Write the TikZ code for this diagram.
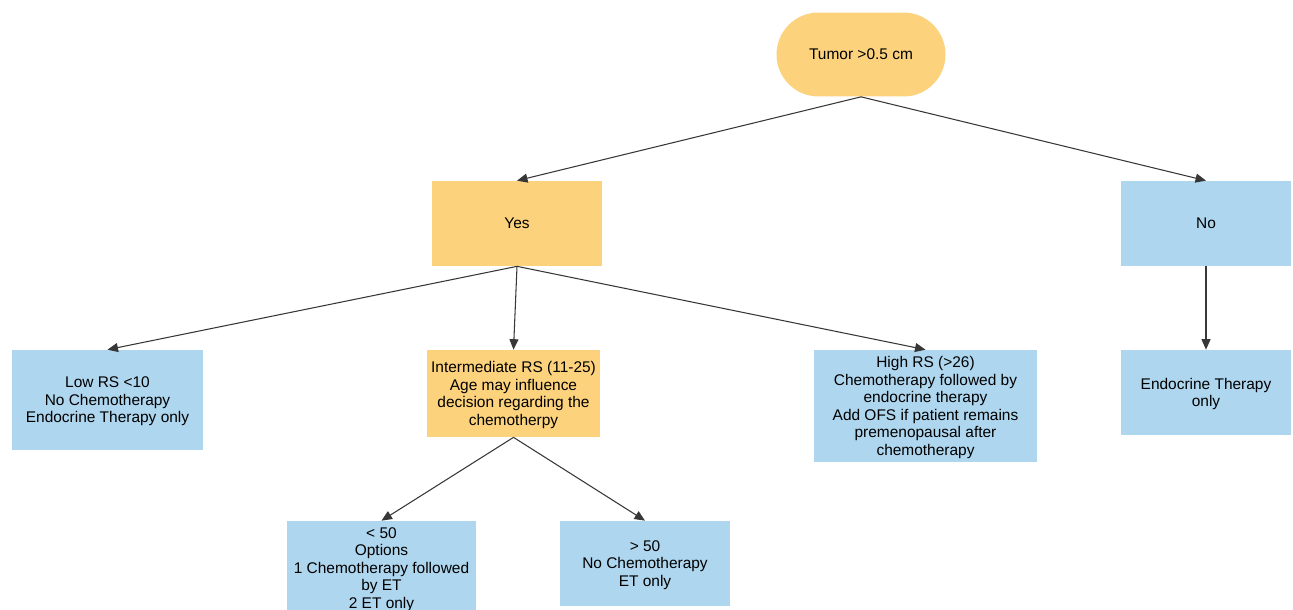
\documentclass[tikz,border=0pt]{standalone}
\usepackage{fontspec}
\setmainfont{Liberation Sans}
\usetikzlibrary{arrows.meta,shapes.misc}
\definecolor{bluec}{RGB}{174,214,238}
\definecolor{yelc}{RGB}{252,210,125}
\definecolor{linec}{RGB}{55,55,55}
\tikzset{
  box/.style={draw=none, inner sep=0pt, align=center, font=\fontsize{8.8}{10}\selectfont},
  multi/.style={text depth=-1.6pt},
  bluebox/.style={box, fill=bluec},
  yelbox/.style={box, fill=yelc},
  conn/.style={draw=linec, line width=0.6pt, -{Triangle[length=0.21cm,width=0.18cm]}}
}
\begin{document}
\begin{tikzpicture}[x=0.02cm,y=-0.02cm]
\useasboundingbox[fill=white] (0,0) rectangle (1293,609);
\node[yelbox, shape=rounded rectangle, minimum width=3.38cm, minimum height=1.68cm] (tumor) at (861,54.5) {Tumor >0.5 cm};
\node[yelbox, minimum width=3.4cm, minimum height=1.7cm] (yes) at (517,223.5) {Yes};
\node[bluebox, minimum width=3.4cm, minimum height=1.7cm] (no) at (1206,223.5) {No};
\node[bluebox, multi, minimum width=3.82cm, minimum height=2.0cm] (low) at (107.5,400) {Low RS <10\\No Chemotherapy\\Endocrine Therapy only};
\node[yelbox, multi, minimum width=3.46cm, minimum height=1.74cm] (int) at (513.5,393.5) {Intermediate RS (11-25)\\Age may influence\\decision regarding the\\chemotherpy};
\node[bluebox, multi, minimum width=4.46cm, minimum height=2.24cm] (high) at (925.5,406) {High RS (>26)\\Chemotherapy followed by\\endocrine therapy\\Add OFS if patient remains\\premenopausal after\\chemotherapy};
\node[bluebox, multi, minimum width=3.4cm, minimum height=1.7cm] (endo) at (1206,392.5) {Endocrine Therapy\\only};
\node[bluebox, multi, minimum width=3.78cm, minimum height=1.88cm] (lt) at (381.5,568) {< 50\\Options\\1 Chemotherapy followed\\by ET\\2 ET only};
\node[bluebox, multi, minimum width=3.4cm, minimum height=1.7cm] (gt) at (645,563.5) {> 50\\No Chemotherapy\\ET only};
\draw[conn] (tumor.south) -- (yes.north);
\draw[conn] (tumor.south) -- (no.north);
\draw[conn] (yes.south) -- (low.north);
\draw[conn] (yes.south) -- (int.north);
\draw[conn] (yes.south) -- (high.north);
\draw[conn] (no.south) -- (endo.north);
\draw[conn] (int.south) -- (lt.north);
\draw[conn] (int.south) -- (gt.north);
\end{tikzpicture}
\end{document}
